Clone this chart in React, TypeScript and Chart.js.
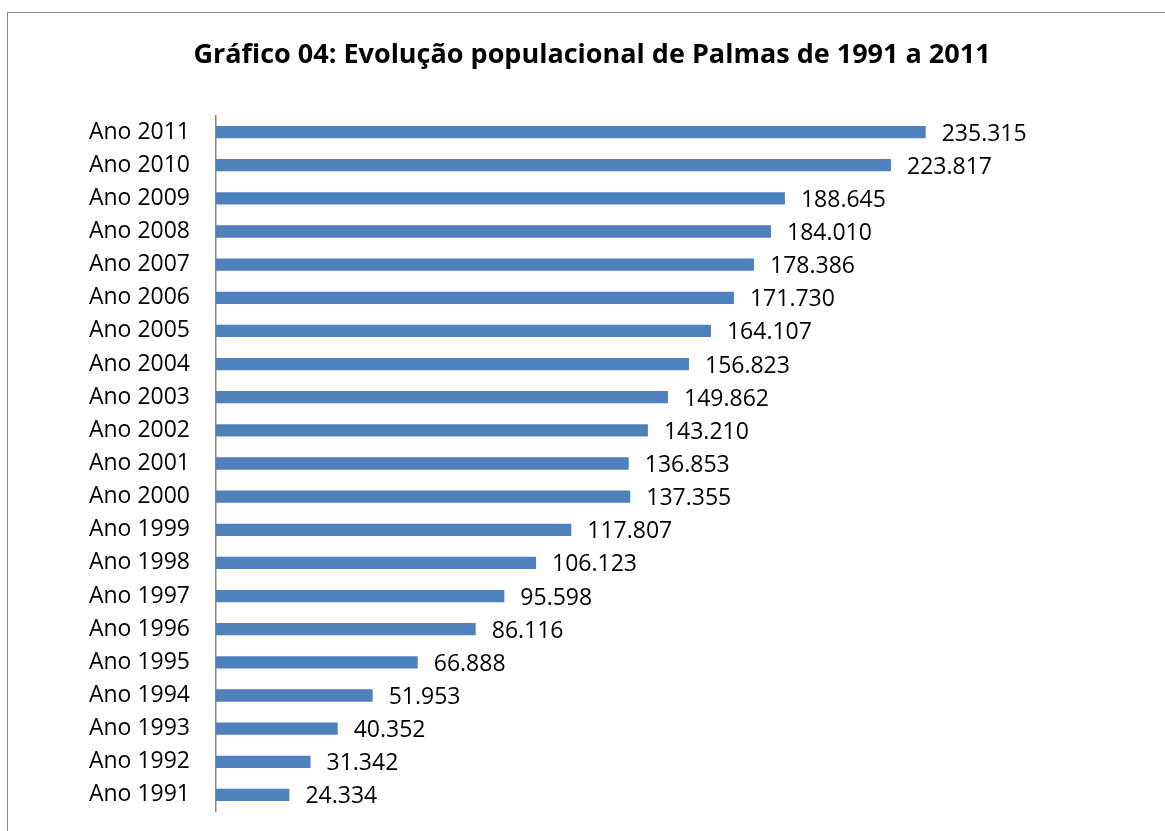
import React, { useEffect, useRef } from "react";
import { Chart, registerables } from "chart.js";

Chart.register(...registerables);

const TITLE = "Gráfico 04: Evolução populacional de Palmas de 1991 a 2011";

const categories = [
  "Ano 2011", "Ano 2010", "Ano 2009", "Ano 2008", "Ano 2007", "Ano 2006", "Ano 2005",
  "Ano 2004", "Ano 2003", "Ano 2002", "Ano 2001", "Ano 2000", "Ano 1999", "Ano 1998",
  "Ano 1997", "Ano 1996", "Ano 1995", "Ano 1994", "Ano 1993", "Ano 1992", "Ano 1991",
];

const population = [
  235315, 223817, 188645, 184010, 178386, 171730, 164107,
  156823, 149862, 143210, 136853, 137355, 117807, 106123,
  95598, 86116, 66888, 51953, 40352, 31342, 24334,
];

const xAxisMax = 250000;

const FONT = "'Open Sans', sans-serif";

function fmt(v: number): string {
  const s = String(Math.round(v));
  return s.replace(/\B(?=(\d{3})+(?!\d))/g, ".");
}

const framePlugin = {
  id: "frame",
  beforeDraw(chart: any) {
    const ctx = chart.ctx;
    ctx.save();
    ctx.fillStyle = "#ffffff";
    ctx.fillRect(0, 0, chart.width, chart.height);
    ctx.strokeStyle = "#8a8a8a";
    ctx.lineWidth = 1;
    ctx.strokeRect(7.5, 12.5, chart.width + 20, chart.height + 20);
    ctx.fillStyle = "#000000";
    ctx.font = `bold 27px ${FONT}`;
    ctx.textAlign = "center";
    ctx.textBaseline = "middle";
    ctx.fillText(TITLE, 592, 55);
    ctx.restore();
  },
};

const valueLabelPlugin = {
  id: "valueLabels",
  afterDatasetsDraw(chart: any) {
    const ctx = chart.ctx;
    const meta = chart.getDatasetMeta(0);
    const data = chart.data.datasets[0].data as number[];
    ctx.save();
    ctx.fillStyle = "#000000";
    ctx.font = `23px ${FONT}`;
    ctx.textAlign = "left";
    ctx.textBaseline = "middle";
    meta.data.forEach((bar: any, i: number) => {
      ctx.fillText(fmt(data[i]), bar.x + 16, bar.y + 2);
    });
    ctx.restore();
  },
};

export default function App() {
  const ref = useRef<HTMLCanvasElement | null>(null);

  useEffect(() => {
    if (!ref.current) return;
    const chart = new Chart(ref.current, {
      type: "bar",
      data: {
        labels: categories,
        datasets: [
          {
            data: population,
            backgroundColor: "#4f81bd",
            borderWidth: 0,
            barPercentage: 0.37,
            categoryPercentage: 1,
          },
        ],
      },
      options: {
        indexAxis: "y",
        animation: false,
        responsive: true,
        maintainAspectRatio: false,
        layout: { padding: { left: 0, right: 195, top: 115.5, bottom: 19.5 } },
        plugins: {
          legend: { display: false },
          title: { display: false },
          tooltip: { enabled: false },
        },
        scales: {
          x: {
            display: false,
            min: 0,
            max: xAxisMax,
          },
          y: {
            afterFit(scale: any) {
              scale.width = 216;
              scale.paddingTop = 0;
              scale.paddingBottom = 0;
            },
            grid: { display: false, drawTicks: false },
            border: { display: true, color: "#868686", width: 1.5 },
            ticks: {
              padding: 26,
              color: "#000000",
              font: { family: FONT, size: 23 },
              autoSkip: false,
            },
          },
        },
      },
      plugins: [framePlugin, valueLabelPlugin],
    });
    return () => chart.destroy();
  }, []);

  return (
    <div style={{ position: "fixed", left: 0, top: 0, width: 1165, height: 831, background: "#fff" }}>
      <canvas ref={ref} />
    </div>
  );
}
